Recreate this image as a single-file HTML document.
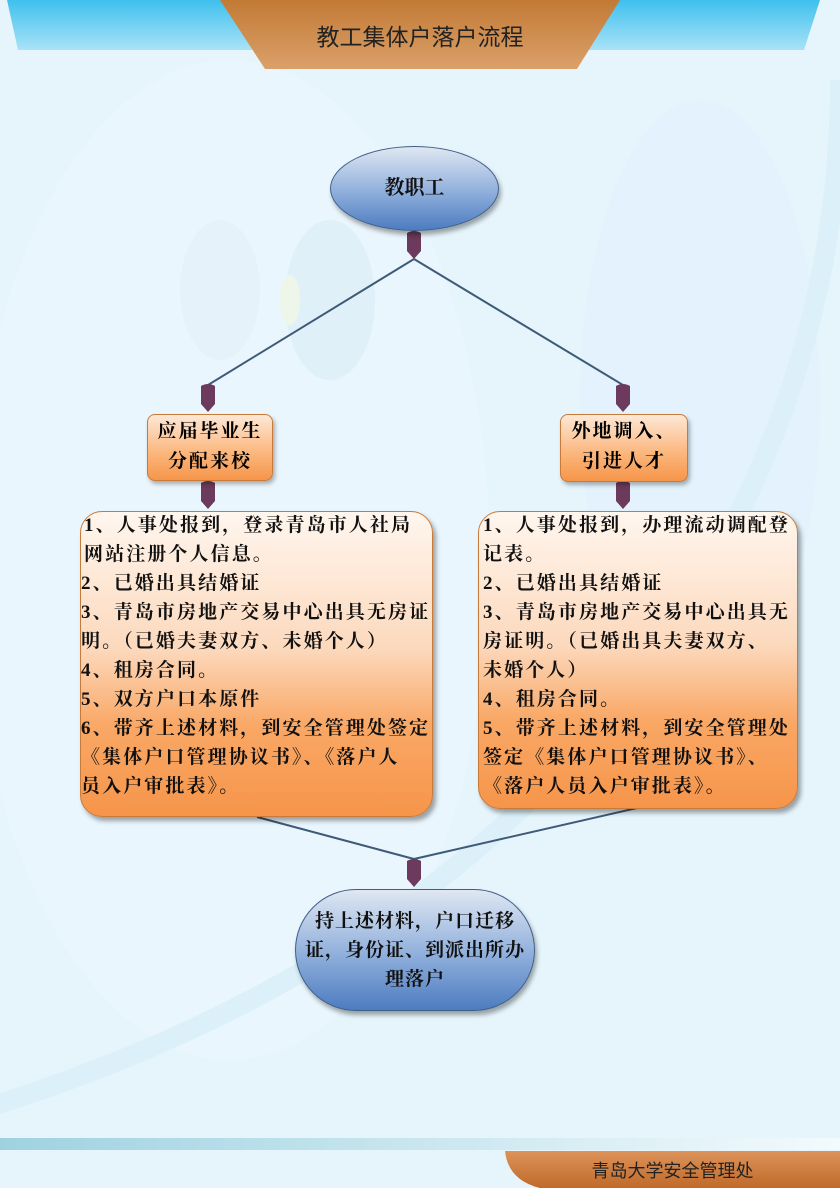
<!DOCTYPE html>
<html><head><meta charset="utf-8"><style>
*{margin:0;padding:0}
body{width:840px;height:1188px;position:relative;overflow:hidden;background:#e6f5fc;font-family:"Liberation Serif","Noto Serif CJK SC",serif}
.abs{position:absolute}
.ln{position:absolute;white-space:nowrap;font-size:19px;font-weight:bold;letter-spacing:2.1px;color:#111;line-height:29px}
.box{position:absolute;border:1px solid #c87a3a;border-radius:22px;background:linear-gradient(#fff6ee 0%,#fcd9bd 45%,#f9a866 70%,#f6954a 100%);box-shadow:3px 4px 5px rgba(0,0,0,.35)}
.sm{position:absolute;border:1px solid #c87a3a;border-radius:8px;background:linear-gradient(#fde8d6,#fbb57a 60%,#f6954a);box-shadow:2px 3px 4px rgba(0,0,0,.3);text-align:center;font-size:19px;font-weight:bold;letter-spacing:2px;line-height:30px;padding-top:2px}
.ov{position:absolute;border:1px solid #3e5f8a;background:linear-gradient(#dfe7f2,#8eaedb 55%,#4d7cc0);box-shadow:2px 4px 5px rgba(0,0,0,.35);text-align:center;font-weight:bold;color:#111}
</style></head><body>
<svg class="abs" style="left:0;top:0" width="840" height="1188">
<defs>
<linearGradient id="b" x1="0" y1="0" x2="0" y2="1"><stop offset="0" stop-color="#3fc0ee"/><stop offset="1" stop-color="#a9e2f7"/></linearGradient>
<linearGradient id="o" x1="0" y1="0" x2="0" y2="1"><stop offset="0" stop-color="#c27a35"/><stop offset="1" stop-color="#dba06a"/></linearGradient>
<linearGradient id="s" x1="0" y1="0" x2="1" y2="0"><stop offset="0" stop-color="#9fd2e0"/><stop offset="1" stop-color="#f3fafd"/></linearGradient>
<linearGradient id="f" x1="0" y1="0" x2="0" y2="1"><stop offset="0" stop-color="#dd935a"/><stop offset="1" stop-color="#c06a2a"/></linearGradient>
</defs>
<ellipse cx="230" cy="560" rx="260" ry="500" fill="#eef8fd" opacity=".5"/>
<ellipse cx="700" cy="400" rx="120" ry="300" fill="#dff0fb" opacity=".5"/>
<ellipse cx="330" cy="300" rx="45" ry="80" fill="#dff0f9"/>
<ellipse cx="220" cy="290" rx="40" ry="70" fill="#e6f2fa"/>
<ellipse cx="290" cy="300" rx="10" ry="25" fill="#eef6ea"/>
<path d="M-20 1110 Q400 980 620 700 T840 80" stroke="#dcf0f9" stroke-width="20" fill="none"/>
<polygon points="7,0 820,0 804,50 18,50" fill="url(#b)"/>
<polygon points="220,0 620,0 577,69 265,69" fill="url(#o)"/>
<rect x="0" y="1138" width="840" height="12" fill="url(#s)"/>
<path d="M505 1151 H840 V1188 H540 Q508 1180 505 1151Z" fill="url(#f)"/>
<g stroke="#3f5a78" stroke-width="2" fill="none">
<line x1="414" y1="259" x2="208" y2="385"/><line x1="414" y1="259" x2="623" y2="385"/>
<line x1="257" y1="817" x2="414" y2="859"/><line x1="637" y1="808" x2="414" y2="859"/>
</g>
<g fill="#6b3a5c">
<path d="M407 233 q7-4 14 0 v18 l-7 8 l-7-8z"/>
<path d="M201 386 q7-4 14 0 v18 l-7 8 l-7-8z"/>
<path d="M616 386 q7-4 14 0 v18 l-7 8 l-7-8z"/>
<path d="M201 483 q7-4 14 0 v18 l-7 8 l-7-8z"/>
<path d="M616 483 q7-4 14 0 v18 l-7 8 l-7-8z"/>
<path d="M407 861 q7-4 14 0 v18 l-7 8 l-7-8z"/>
</g>
</svg>
<div class="abs" style="left:220px;top:18px;width:400px;text-align:center;font-family:'Liberation Sans','Noto Sans CJK SC',sans-serif;font-size:23px;color:#222">教工集体户落户流程</div>
<div class="ov" style="left:330px;top:146px;width:167px;height:83px;border-radius:50%;line-height:83px;font-size:20px">教职工</div>
<div class="sm" style="left:147px;top:414px;width:124px;height:63px">应届毕业生<br>分配来校</div>
<div class="sm" style="left:560px;top:414px;width:126px;height:64px">外地调入、<br>引进人才</div>
<div class="box" style="left:80px;top:511px;width:351px;height:304px"></div>
<div class="ln" style="left:84px;top:511px">1、人事处报到，登录青岛市人社局</div>
<div class="ln" style="left:84px;top:540px">网站注册个人信息。</div>
<div class="ln" style="left:81px;top:569px">2、已婚出具结婚证</div>
<div class="ln" style="left:81px;top:598px">3、青岛市房地产交易中心出具无房证</div>
<div class="ln" style="left:81px;top:627px">明。（已婚夫妻双方、未婚个人）</div>
<div class="ln" style="left:81px;top:656px">4、租房合同。</div>
<div class="ln" style="left:81px;top:685px">5、双方户口本原件</div>
<div class="ln" style="left:81px;top:714px">6、带齐上述材料，到安全管理处签定</div>
<div class="ln" style="left:81px;top:743px">《集体户口管理协议书》、《落户人</div>
<div class="ln" style="left:81px;top:772px">员入户审批表》。</div>
<div class="box" style="left:478px;top:511px;width:318px;height:296px"></div>
<div class="ln" style="left:483px;top:511px">1、人事处报到，办理流动调配登</div>
<div class="ln" style="left:483px;top:540px">记表。</div>
<div class="ln" style="left:483px;top:569px">2、已婚出具结婚证</div>
<div class="ln" style="left:483px;top:598px">3、青岛市房地产交易中心出具无</div>
<div class="ln" style="left:483px;top:627px">房证明。（已婚出具夫妻双方、</div>
<div class="ln" style="left:483px;top:656px">未婚个人）</div>
<div class="ln" style="left:483px;top:685px">4、租房合同。</div>
<div class="ln" style="left:483px;top:714px">5、带齐上述材料，到安全管理处</div>
<div class="ln" style="left:483px;top:743px">签定《集体户口管理协议书》、</div>
<div class="ln" style="left:483px;top:772px">《落户人员入户审批表》。</div>
<div class="ov" style="left:295px;top:889px;width:240px;height:122px;border-radius:61px;font-size:19px;letter-spacing:1px;line-height:29px;padding-top:17px;box-sizing:border-box">持上述材料，户口迁移<br>证，身份证、到派出所办<br>理落户</div>
<div class="abs" style="left:505px;top:1157px;width:335px;text-align:center;font-family:'Liberation Sans','Noto Sans CJK SC',sans-serif;font-size:18px;color:#222">青岛大学安全管理处</div>
</body></html>
